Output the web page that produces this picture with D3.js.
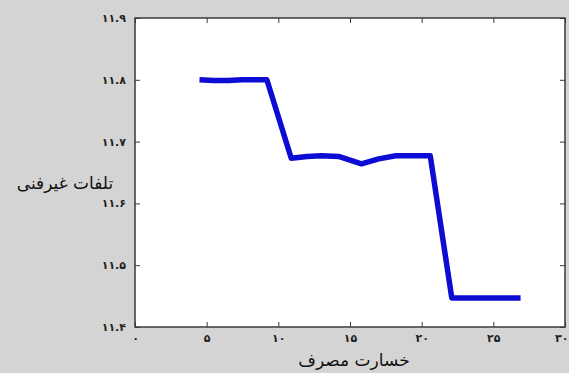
<!DOCTYPE html>
<html>
<head>
<meta charset="utf-8">
<script src="https://cdn.jsdelivr.net/npm/d3@7/dist/d3.min.js"></script>
<style>
  html, body { margin: 0; padding: 0; background: #d4d4d4; }
  svg { display: block; }
</style>
</head>
<body>
<script>
// Non-technical losses versus consumption damage
const xValues = [4.5, 5.5, 6.5, 7.5, 8.5, 9.2, 10.9, 12.0, 13.0, 14.2, 15.8, 17.0, 18.2, 19.5, 20.6, 22.1, 23.0, 24.0, 25.0, 26.0, 26.9];
const yValues = [11.800, 11.799, 11.799, 11.800, 11.800, 11.800, 11.673, 11.676, 11.677, 11.676, 11.664, 11.672, 11.677, 11.677, 11.677, 11.447, 11.447, 11.447, 11.447, 11.447, 11.447];
const xTicks = [0, 5, 10, 15, 20, 25, 30];
const yTicks = [11.4, 11.5, 11.6, 11.7, 11.8, 11.9];
const xLabel = "خسارت مصرف";
const yLabel = "تلفات غیرفنی";

const W = 569, H = 373;
const padL = 135, padR = 565, padT = 18, padB = 327;

const persian = s => String(s).replace(/[0-9]/g, d => "۰۱۲۳۴۵۶۷۸۹"[+d]);

const svg = d3.select("body").append("svg").attr("width", W).attr("height", H);
svg.append("rect").attr("width", W).attr("height", H).attr("fill", "#d4d4d4");

const x = d3.scaleLinear().domain([0, 30]).range([padL, padR]);
const y = d3.scaleLinear().domain([11.4, 11.9]).range([padB, padT]);

// plot area
svg.append("rect")
  .attr("x", padL).attr("y", padT)
  .attr("width", padR - padL).attr("height", padB - padT)
  .attr("fill", "#ffffff");

const axisColor = "#3a3a3a";
const tickFont = "DejaVu Sans, sans-serif";

// bottom axis with inward ticks
const gx = svg.append("g").attr("transform", `translate(0,${padB})`)
  .call(d3.axisBottom(x).tickValues(xTicks).tickSizeInner(-5).tickSizeOuter(0)
    .tickPadding(7).tickFormat(d => persian(d)));
gx.select(".domain").remove();
gx.selectAll("line").attr("stroke", axisColor);
gx.selectAll("text").attr("font-family", tickFont).attr("font-size", 11)
  .attr("font-weight", "bold").attr("fill", "#222");
// the last label sits against the right edge of the figure
gx.selectAll(".tick").filter(d => d === 30).select("text")
  .attr("text-anchor", "end").attr("x", 568 - padR);

// top axis ticks
const gxt = svg.append("g").attr("transform", `translate(0,${padT})`)
  .call(d3.axisTop(x).tickValues(xTicks).tickSizeInner(-5).tickSizeOuter(0).tickFormat(""));
gxt.select(".domain").remove();
gxt.selectAll("line").attr("stroke", axisColor);

// left axis
const gy = svg.append("g").attr("transform", `translate(${padL},0)`)
  .call(d3.axisLeft(y).tickValues(yTicks).tickSizeInner(-5).tickSizeOuter(0)
    .tickPadding(9).tickFormat(d => persian(d3.format(".1f")(d))));
gy.select(".domain").remove();
gy.selectAll("line").attr("stroke", axisColor);
gy.selectAll("text").attr("font-family", tickFont).attr("font-size", 11)
  .attr("font-weight", "bold").attr("fill", "#222");

// right axis ticks
const gyr = svg.append("g").attr("transform", `translate(${padR},0)`)
  .call(d3.axisRight(y).tickValues(yTicks).tickSizeInner(-5).tickSizeOuter(0).tickFormat(""));
gyr.select(".domain").remove();
gyr.selectAll("line").attr("stroke", axisColor);

// box
svg.append("rect")
  .attr("x", padL).attr("y", padT)
  .attr("width", padR - padL).attr("height", padB - padT)
  .attr("fill", "none").attr("stroke", axisColor).attr("stroke-width", 1.5);

// data line
const pts = xValues.map((v, i) => [v, yValues[i]]);
svg.append("path")
  .datum(pts)
  .attr("fill", "none")
  .attr("stroke", "#0c0cd4")
  .attr("stroke-width", 5.5)
  .attr("stroke-linejoin", "round")
  .attr("d", d3.line().x(d => x(d[0])).y(d => y(d[1])));

// axis titles
svg.append("text")
  .attr("x", 354).attr("y", 366)
  .attr("text-anchor", "middle")
  .attr("font-family", "DejaVu Sans, sans-serif").attr("font-size", 17)
  .attr("fill", "#111")
  .text(xLabel);

svg.append("text")
  .attr("x", 65).attr("y", 189)
  .attr("text-anchor", "middle")
  .attr("font-family", "DejaVu Sans, sans-serif").attr("font-size", 17)
  .attr("fill", "#111")
  .text(yLabel);
</script>
</body>
</html>
